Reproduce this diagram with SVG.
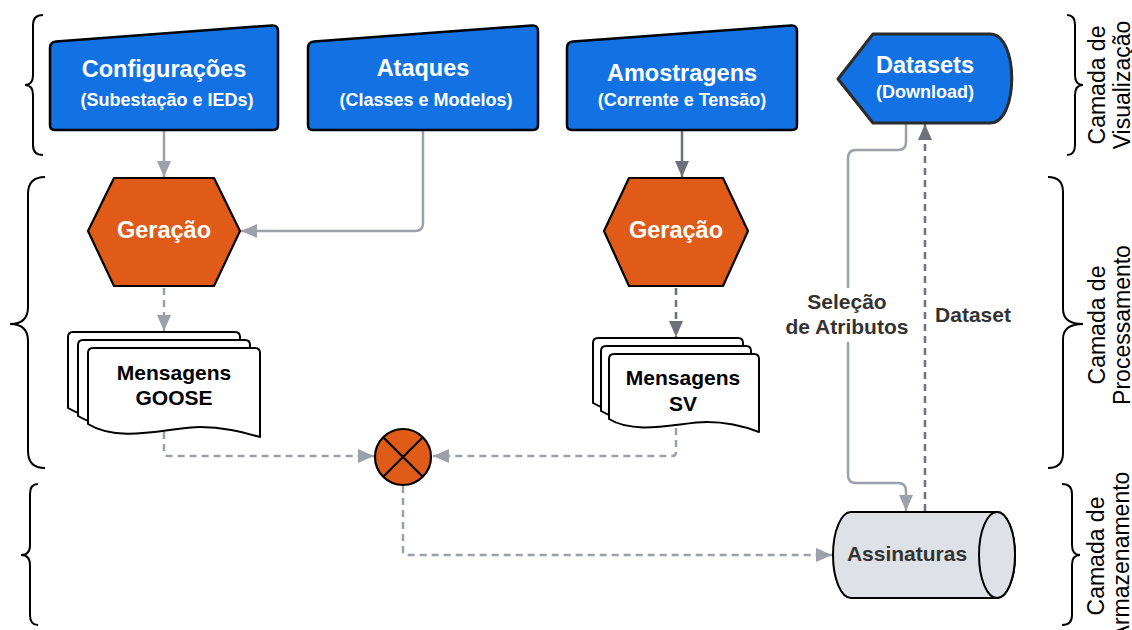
<svg xmlns="http://www.w3.org/2000/svg" width="1132" height="630" viewBox="0 0 1132 630">
<defs>
<style>
.t{font-family:"Liberation Sans",Arial,sans-serif;font-weight:bold;text-anchor:middle}
.w{fill:#fff}
.title{font-size:23.5px}
.sub{font-size:18px}
.dark{fill:#000;font-size:21px}
.lbl{fill:#333;font-size:21px}
.side{font-family:"Liberation Sans",Arial,sans-serif;font-size:23px;fill:#000;text-anchor:middle}
.blue{fill:#1272e4;stroke:#000;stroke-width:2.5;stroke-linejoin:round}
.orange{fill:#e05a18;stroke:#000;stroke-width:2.2;stroke-linejoin:round}
.doc{fill:#fff;stroke:#000;stroke-width:2;stroke-linejoin:round}
.brace{fill:none;stroke:#000;stroke-width:2}
.c{fill:none;stroke-width:2.5}
.lg{stroke:#9ca1a9}
.dg{stroke:#6c717a}
.dash{stroke-dasharray:7 5}
</style>
<marker id="aL" markerUnits="userSpaceOnUse" markerWidth="16" markerHeight="14" refX="16" refY="7" orient="auto"><path d="M0,0 L16,7 L0,14 Z" fill="#9ca1a9"/></marker>
<marker id="aD" markerUnits="userSpaceOnUse" markerWidth="16" markerHeight="14" refX="16" refY="7" orient="auto"><path d="M0,0 L16,7 L0,14 Z" fill="#6c717a"/></marker>
</defs>
<rect width="1132" height="630" fill="#fff"/>

<g id="braces">
<path class="brace" d="M43,15 Q33,15 33,25 V75 Q33,85 25,85 Q33,85 33,95 V145 Q33,155 43,155"/>
<path class="brace" d="M45,177 Q28,177 28,194 V307 Q28,324 10,324 Q28,324 28,341 V451 Q28,468 45,468"/>
<path class="brace" d="M38,484 Q30,484 30,494 V545 Q30,555 21,555 Q30,555 30,565 V615 Q30,625 38,625"/>
<path class="brace" d="M1067,15 Q1075,15 1075,25 V75 Q1075,85 1083,85 Q1075,85 1075,95 V145 Q1075,155 1067,155"/>
<path class="brace" d="M1048,177 Q1063,177 1063,192 V309 Q1063,324 1083,324 Q1063,324 1063,339 V453 Q1063,468 1048,468"/>
<path class="brace" d="M1062,484 Q1072,484 1072,494 V545 Q1072,555 1080,555 Q1072,555 1072,565 V615 Q1072,625 1062,625"/>
</g>

<g id="layer-labels">
<text class="side" transform="translate(1105,85) rotate(-90)"><tspan x="0" y="0">Camada de</tspan><tspan x="0" y="25">Visualização</tspan></text>
<text class="side" transform="translate(1105,325) rotate(-90)"><tspan x="0" y="0">Camada de</tspan><tspan x="0" y="25">Processamento</tspan></text>
<text class="side" transform="translate(1104,556) rotate(-90)"><tspan x="0" y="0">Camada de</tspan><tspan x="0" y="25">Armazenamento</tspan></text>
</g>

<g id="connectors">
<path class="c lg" d="M164,131 V177" marker-end="url(#aL)"/>
<path class="c lg" d="M423,131 V223 Q423,231 415,231 H241" marker-end="url(#aL)"/>
<path class="c dg" d="M682,131 V177" marker-end="url(#aD)"/>
<path class="c lg dash" d="M164,288 V331" marker-end="url(#aL)"/>
<path class="c dg dash" d="M676,288 V337" marker-end="url(#aD)"/>
<path class="c lg dash" d="M164,432 V452 Q164,456 168,456 H374" marker-end="url(#aL)"/>
<path class="c lg dash" d="M676,428 V452 Q676,456 672,456 H433" marker-end="url(#aL)"/>
<path class="c lg dash" d="M403,486 V551 Q403,555 407,555 H832" marker-end="url(#aL)"/>
<path class="c lg" d="M906,124 V142 Q906,150 898,150 H856 Q848,150 848,158 V475 Q848,483 856,483 H898 Q906,483 906,491 V511" marker-end="url(#aL)"/>
<path class="c dg dash" d="M925,511 V124" marker-end="url(#aD)"/>
<rect x="786" y="288" width="122" height="54" fill="#fff"/>
<text class="t lbl"><tspan x="847" y="309">Seleção</tspan><tspan x="847" y="334">de Atributos</tspan></text>
<text class="t lbl" x="973" y="322">Dataset</text>
</g>

<g id="configuracoes">
<path class="blue" d="M50,48 Q50,42 56,41.6 L272,25.4 Q278,25 278,31 V125 Q278,130 273,130 H55 Q50,130 50,125 Z"/>
<text class="t w title" x="164" y="77">Configurações</text>
<text class="t w sub" x="167" y="106">(Subestação e IEDs)</text>
</g>
<g id="ataques">
<path class="blue" d="M308,48 Q308,42 314,41.6 L532,25.4 Q538,25 538,31 V125 Q538,130 533,130 H313 Q308,130 308,125 Z"/>
<text class="t w title" x="423" y="76">Ataques</text>
<text class="t w sub" x="426" y="106">(Classes e Modelos)</text>
</g>
<g id="amostragens">
<path class="blue" d="M567,48 Q567,42 573,41.6 L791,25.4 Q797,25 797,31 V125 Q797,130 792,130 H572 Q567,130 567,125 Z"/>
<text class="t w title" x="682" y="81">Amostragens</text>
<text class="t w sub" x="682" y="106">(Corrente e Tensão)</text>
</g>
<g id="datasets">
<path d="M873,34 H990 C1019,34 1019,123 990,123 H873 L838,79 Z" fill="#1272e4" stroke="#2b2b2b" stroke-width="3" stroke-linejoin="round"/>
<text class="t w title" x="925" y="73">Datasets</text>
<text class="t w sub" x="925" y="98">(Download)</text>
</g>

<g id="geracao1">
<path class="orange" d="M88,231 L114,178 H214 L240,231 L214,286 H114 Z"/>
<text class="t w title" x="164" y="238">Geração</text>
</g>
<g id="geracao2">
<path class="orange" d="M604,231 L629,178 H723 L748,231 L723,286 H629 Z"/>
<text class="t w title" x="676" y="238">Geração</text>
</g>

<g id="mensagens-goose">
<path class="doc" d="M68,408 V337 Q68,332 73,332 H235 Q240,332 240,337 V421 C225,417 205,411 180,411 C150,411 100,428 68,408 Z"/>
<path class="doc" d="M78,416 V345 Q78,340 83,340 H245 Q250,340 250,345 V429 C235,425 215,419 190,419 C160,419 110,436 78,416 Z"/>
<path class="doc" d="M88,424 V353 Q88,348 93,348 H255 Q260,348 260,353 V437 C245,433 225,427 200,427 C170,427 120,444 88,424 Z"/>
<text class="t dark"><tspan x="174" y="380">Mensagens</tspan><tspan x="174" y="405">GOOSE</tspan></text>
</g>
<g id="mensagens-sv">
<path class="doc" d="M593,403 V343 Q593,338 598,338 H738 Q743,338 743,343 V416 C730,411 713,406 691,406 C664,406 621,420 593,403 Z"/>
<path class="doc" d="M601,411 V351 Q601,346 606,346 H746 Q751,346 751,351 V424 C738,419 721,414 699,414 C672,414 629,428 601,411 Z"/>
<path class="doc" d="M609,419 V359 Q609,354 614,354 H754 Q759,354 759,359 V432 C746,427 729,422 707,422 C680,422 637,436 609,419 Z"/>
<text class="t dark"><tspan x="683" y="385">Mensagens</tspan><tspan x="683" y="411">SV</tspan></text>
</g>

<g id="juncao">
<circle cx="403" cy="457" r="28" fill="#e05a18" stroke="#000" stroke-width="2.2"/>
<path d="M383.2,437.2 L422.8,476.8 M422.8,437.2 L383.2,476.8" stroke="#000" stroke-width="2.2"/>
</g>

<g id="assinaturas">
<path d="M851,512 H997 A18,43 0 0 1 997,598 H851 A18,43 0 0 1 851,512 Z" fill="#dee1e6" stroke="#000" stroke-width="2"/>
<ellipse cx="997" cy="555" rx="18" ry="43" fill="#dee1e6" stroke="#000" stroke-width="2"/>
<text class="t lbl" x="907" y="561">Assinaturas</text>
</g>
</svg>
